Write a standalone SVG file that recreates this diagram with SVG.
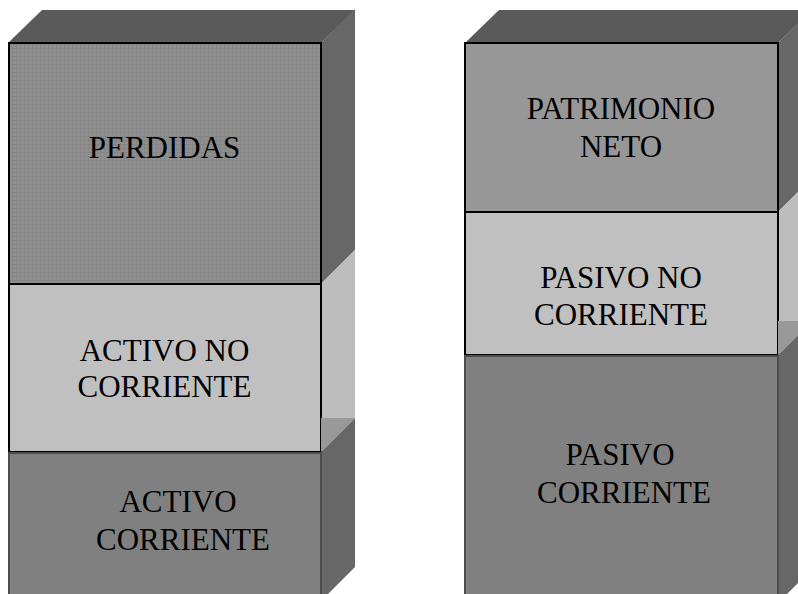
<svg xmlns="http://www.w3.org/2000/svg" width="798" height="594" viewBox="0 0 798 594">
<style>
.lbl{font-family:"Liberation Serif","Times New Roman",serif;font-size:31px;fill:#000;text-anchor:middle}
.topf{fill:#5a5a5a}
.sided{fill:#676767}
.sidel{fill:#bdbdbd}
.topl{fill:#999999}
.fb{stroke:#000;stroke-width:2}
.fg{stroke:#4d4d4d;stroke-width:2}
</style>
<defs>
<pattern id="tex" width="4" height="4" patternUnits="userSpaceOnUse">
<rect width="4" height="4" fill="#8f8f8f"/>
<rect width="4" height="1" fill="#848484"/>
<rect width="1" height="4" fill="#878787"/>
</pattern>
</defs>
<rect width="798" height="594" fill="#fff"/>
<g id="perdidas">
<polygon class="topf" points="8,43 42,10 355,10 321,43"/>
<polygon class="sided" points="321,43 355,9 355,250 321,284"/>
<rect class="fb" x="9" y="43" width="312" height="241" fill="url(#tex)"/>
<text class="lbl" x="164.5" y="158">PERDIDAS</text>
</g>
<g id="activo-no-corriente">
<polygon class="sidel" points="321,284 355,250 355,418 321,418"/>
<rect class="fb" x="9" y="284" width="312" height="168" fill="#c0c0c0"/>
<text class="lbl" x="164.5" y="361">ACTIVO NO</text>
<text class="lbl" x="164.5" y="397">CORRIENTE</text>
</g>
<g id="activo-corriente">
<polygon class="topl" points="321,418 355,418 321,452"/>
<polygon class="sided" points="321,452 355,418 355,567 321,601"/>
<rect class="fg" x="9" y="453" width="312" height="150" fill="#808080"/>
<text class="lbl" x="178" y="512">ACTIVO</text>
<text class="lbl" x="183" y="550">CORRIENTE</text>
</g>
<g id="patrimonio-neto">
<polygon class="topf" points="465,43 499,10 812,10 778,43"/>
<polygon class="sided" points="778,43 812,9 812,178 778,212"/>
<rect class="fb" x="465" y="43" width="313" height="169" fill="#979797"/>
<text class="lbl" x="621" y="119">PATRIMONIO</text>
<text class="lbl" x="621" y="157">NETO</text>
</g>
<g id="pasivo-no-corriente">
<polygon class="sidel" points="778,212 812,178 812,321 778,321"/>
<rect class="fb" x="465" y="212" width="313" height="143" fill="#c0c0c0"/>
<text class="lbl" x="621" y="288">PASIVO NO</text>
<text class="lbl" x="621" y="325">CORRIENTE</text>
</g>
<g id="pasivo-corriente">
<polygon class="topl" points="778,321 812,321 778,355"/>
<polygon class="sided" points="778,355 812,321 812,569 778,603"/>
<rect class="fg" x="465" y="356" width="313" height="250" fill="#808080"/>
<text class="lbl" x="620" y="465">PASIVO</text>
<text class="lbl" x="624" y="503">CORRIENTE</text>
</g>
</svg>
